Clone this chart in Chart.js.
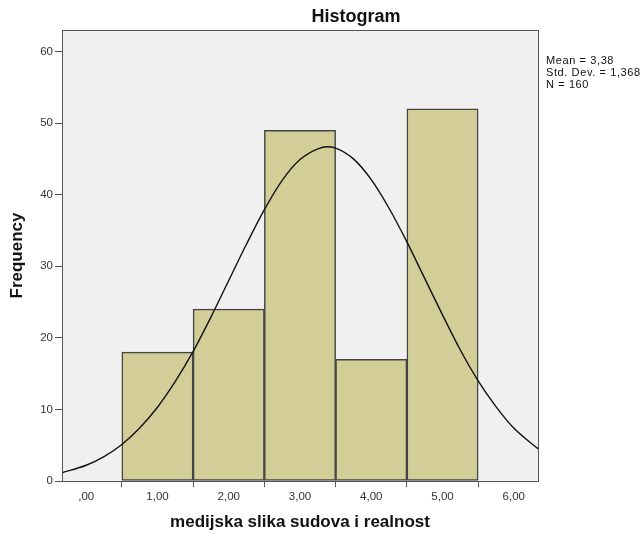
<!DOCTYPE html>
<html>
<head>
<meta charset="utf-8">
<script src="https://cdn.jsdelivr.net/npm/chart.js@4/dist/chart.umd.min.js"></script>
<style>
  html, body { margin: 0; padding: 0; background: #fff; }
  #wrap { width: 642px; height: 534px; }
</style>
</head>
<body>
<div id="wrap"><canvas id="Chart1" width="642" height="534"></canvas></div>
<script>
// histogram bins (centres) and counts
let bins = [1, 2, 3, 4, 5];
let counts = [18, 24, 49, 17, 52];

// normal curve
let curveX = [-0.34, 0, 0.25, 0.5, 0.75, 1, 1.25, 1.5, 1.75, 2, 2.25, 2.5, 2.75, 3, 3.25, 3.38,
              3.5, 3.75, 4, 4.25, 4.5, 4.75, 5, 5.25, 5.5, 5.75, 6, 6.34];
let curveY = [1.15, 2.2, 3.4, 5.1, 7.4, 10.3, 13.9, 18.1, 22.9, 28.0, 33.1, 37.9, 42.0, 44.9, 46.4, 46.7,
              46.5, 45.0, 42.1, 38.1, 33.4, 28.3, 23.2, 18.3, 14.0, 10.4, 7.4, 4.5];

let xTicks = [0, 1, 2, 3, 4, 5, 6];
let xTickLabels = [',00', '1,00', '2,00', '3,00', '4,00', '5,00', '6,00'];
let yTicks = [0, 10, 20, 30, 40, 50, 60];
let title = 'Histogram';
let stats = ['Mean = 3,38', 'Std. Dev. = 1,368', 'N = 160'];

const FONT = "'Liberation Sans', Arial, sans-serif";

// grey plot area with a frame, title and the stats block on the right
const framePlugin = {
    id: 'frame',
    beforeDatasetsDraw(chart) {
        const a = chart.chartArea, ctx = chart.ctx;
        ctx.save();
        ctx.fillStyle = '#f0f0f0';
        ctx.fillRect(a.left, a.top, a.right - a.left, a.bottom - a.top);
        ctx.restore();
    },
    afterDraw(chart) {
        const a = chart.chartArea, ctx = chart.ctx;
        ctx.save();
        ctx.strokeStyle = '#555';
        ctx.lineWidth = 1;
        ctx.strokeRect(a.left + 0.5, a.top + 0.5, a.right - a.left, a.bottom - a.top);

        ctx.fillStyle = '#111';
        ctx.font = 'bold 18px ' + FONT;
        ctx.textAlign = 'center';
        ctx.textBaseline = 'middle';
        ctx.fillText(title, 356, 17);

        ctx.font = '11px ' + FONT;
        ctx.letterSpacing = '0.6px';
        ctx.textAlign = 'left';
        stats.forEach((s, i) => ctx.fillText(s, a.right + 8, 61 + i * 12));
        ctx.restore();
    }
};

let config = {
    type: 'bar',
    data: {
        datasets: [{
            type: 'line',
            order: 0,
            data: curveX.map((x, i) => ({x: x, y: curveY[i]})),
            borderColor: '#111',
            borderWidth: 1.4,
            pointRadius: 0,
            fill: false,
            cubicInterpolationMode: 'monotone'
        }, {
            type: 'bar',
            order: 1,
            data: bins.map((x, i) => ({x: x, y: counts[i]})),
            backgroundColor: '#d3ce98',
            borderColor: '#444',
            borderWidth: 1.5,
            borderSkipped: false,
            barPercentage: 1,
            categoryPercentage: 1,
            grouped: false
        }]
    },
    options: {
        responsive: false,
        animation: false,
        layout: {padding: {left: 0, right: 104, top: 30, bottom: 0}},
        plugins: {
            legend: {display: false},
            tooltip: {enabled: false},
            title: {display: false}
        },
        scales: {
            x: {
                type: 'linear',
                offset: false,
                min: -0.34,
                max: 6.34,
                afterBuildTicks: s => { s.ticks = xTicks.map(v => ({value: v})); },
                afterFit: s => { s.height = 53; },
                grid: {drawOnChartArea: false, drawTicks: true, tickLength: 6, color: '#555'},
                border: {display: true, color: '#555'},
                ticks: {
                    color: '#333',
                    font: {family: FONT, size: 11.5},
                    padding: 3,
                    maxRotation: 0,
                    callback: (v) => xTickLabels[xTicks.indexOf(v)]
                },
                title: {
                    display: true,
                    text: 'medijska slika sudova i realnost',
                    color: '#111',
                    font: {family: FONT, size: 17, weight: 'bold'},
                    padding: {top: 0, bottom: 1}
                }
            },
            y: {
                min: 0,
                max: 63,
                afterBuildTicks: s => { s.ticks = yTicks.map(v => ({value: v})); },
                afterFit: s => { s.width = 62; },
                grid: {drawOnChartArea: false, drawTicks: true, tickLength: 7, color: '#555'},
                border: {display: true, color: '#555'},
                ticks: {
                    color: '#333',
                    font: {family: FONT, size: 11.5},
                    padding: 2
                },
                title: {
                    display: true,
                    text: 'Frequency',
                    color: '#111',
                    font: {family: FONT, size: 17, weight: 'bold'},
                    padding: {top: 7, bottom: 0}
                }
            }
        }
    },
    plugins: [framePlugin]
};

let ctx = document.getElementById('Chart1');
let myChart = new Chart(ctx, config);
</script>
</body>
</html>
